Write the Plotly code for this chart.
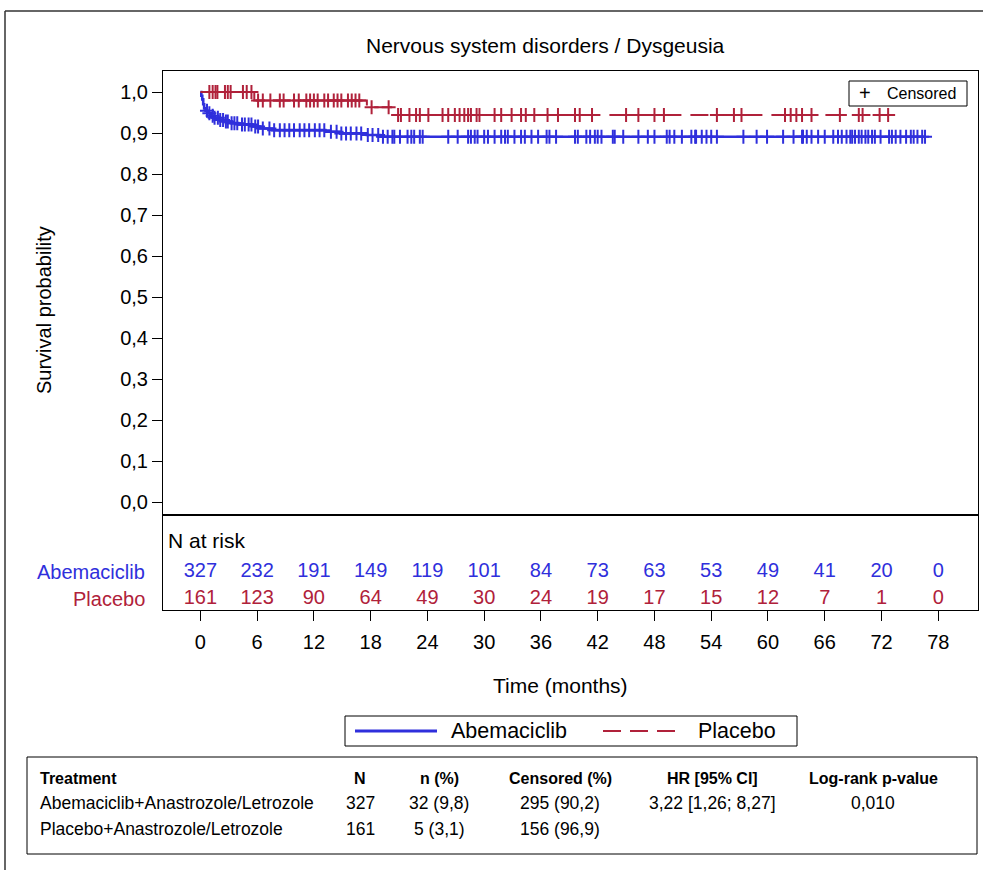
import numpy as np
import plotly.graph_objects as go

W, H = 983, 870
FONT = "Liberation Sans, Arial, sans-serif"
BLUE = "#2f2fdc"
RED = "#b0213a"

# Kaplan-Meier step estimates: time (months) where the curve steps, survival after the step
abem_times = [0, 0.1, 0.2, 0.3, 0.4, 0.55, 0.8, 1.1, 1.5, 2.0, 2.6, 3.3, 4.0, 5.5, 6.3, 7.6,
              13.2, 14.8, 17.6, 19.0]
abem_surv = [1.0, 0.991, 0.982, 0.970, 0.960, 0.954, 0.948, 0.942, 0.937, 0.932, 0.928, 0.924,
             0.921, 0.916, 0.911, 0.907, 0.903, 0.899, 0.895, 0.891]
abem_last = 76.6

plac_times = [0, 5.7, 17.6, 20.5]
plac_surv = [1.0, 0.979, 0.963, 0.944]
plac_last = 73.3

# Censoring times (months)
abem_censor = [0.7, 0.95, 1.3, 1.5, 1.85, 2.1, 2.4, 2.7, 2.9, 3.3, 3.6, 3.9, 4.4, 4.7, 5.1, 5.4,
               5.8, 6.1, 6.6, 7.3, 7.8, 8.4, 8.9, 9.4, 9.9, 10.5, 11.0, 11.5, 12.1, 12.6, 13.1,
               13.8, 14.4, 14.9, 15.4, 15.9, 16.5, 17.0, 17.7, 18.2, 18.8, 19.3, 19.8, 20.3,
               20.5, 21.1, 21.9, 22.3, 22.6, 23.2, 23.5, 26.2, 27.2, 28.3, 28.6, 29.0, 29.3,
               30.0, 30.4, 31.1, 31.8, 32.2, 32.5, 33.2, 33.9, 34.3, 35.0, 35.7, 36.6, 36.9,
               37.6, 39.6, 39.9, 40.8, 41.2, 41.7, 42.0, 42.4, 43.6, 43.8, 44.7, 46.3, 47.3,
               48.0, 49.3, 49.6, 50.1, 50.9, 51.9, 52.3, 52.4, 53.0, 53.5, 54.0, 54.6, 57.4,
               58.8, 59.9, 61.6, 62.7, 63.6, 63.7, 64.1, 64.6, 65.3, 66.0, 66.9, 67.4, 67.8,
               68.3, 68.7, 68.9, 69.2, 69.6, 69.9, 70.3, 70.6, 71.0, 71.3, 71.9, 72.8, 73.1,
               73.5, 74.0, 74.6, 75.1, 75.4, 75.8, 76.3, 76.6]
plac_censor = [0.95, 1.3, 1.6, 1.8, 2.6, 2.9, 3.2, 4.5, 4.9, 5.4, 6.1, 6.6, 7.4, 8.4, 8.8, 9.9,
               10.4, 11.2, 11.6, 12.0, 12.4, 13.1, 13.5, 14.1, 14.5, 14.9, 15.6, 16.0, 16.4,
               16.8, 18.1, 19.9, 20.9, 21.2, 22.1, 22.8, 23.2, 24.1, 25.6, 26.2, 26.9, 27.4,
               27.9, 28.3, 28.6, 29.2, 29.5, 31.1, 31.8, 32.9, 33.9, 34.4, 35.3, 36.7, 37.8,
               39.6, 40.1, 41.4, 45.0, 46.3, 48.0, 49.0, 54.6, 56.4, 57.2, 61.8, 62.4, 63.0,
               63.6, 64.6, 67.6, 69.6, 70.0, 71.8, 72.7]

# Numbers at risk
risk_times = [0, 6, 12, 18, 24, 30, 36, 42, 48, 54, 60, 66, 72, 78]
abem_at_risk = [327, 232, 191, 149, 119, 101, 84, 73, 63, 53, 49, 41, 20, 0]
plac_at_risk = [161, 123, 90, 64, 49, 30, 24, 19, 17, 15, 12, 7, 1, 0]

y_tick_vals = [0.0, 0.1, 0.2, 0.3, 0.4, 0.5, 0.6, 0.7, 0.8, 0.9, 1.0]
y_tick_text = ["0,0", "0,1", "0,2", "0,3", "0,4", "0,5", "0,6", "0,7", "0,8", "0,9", "1,0"]

arm_names = ["Abemaciclib", "Placebo"]

table_header = ["Treatment", "N", "n (%)", "Censored (%)", "HR [95% CI]", "Log-rank p-value"]
table_rows = [
    ["Abemaciclib+Anastrozole/Letrozole", "327", "32 (9,8)", "295 (90,2)", "3,22 [1,26; 8,27]", "0,010"],
    ["Placebo+Anastrozole/Letrozole", "161", "5 (3,1)", "156 (96,9)", "", ""],
]


def px(x):
    return x / W


def py(y):
    return 1 - y / H


def step_value(times, surv, t):
    idx = np.searchsorted(np.asarray(times), np.asarray(t), side="right") - 1
    return np.asarray(surv)[idx]


# layout geometry (pixels)
PL, PR = 163, 978          # plot left / right
PT, PB = 71, 515           # survival panel top / bottom
RB = 610                   # at-risk panel bottom
X_RANGE = [-3.95, 82.2]

fig = go.Figure()

# survival curves
fig.add_trace(go.Scatter(
    x=abem_times + [abem_last], y=abem_surv + [abem_surv[-1]], mode="lines",
    line=dict(color=BLUE, width=2.6, shape="hv"), xaxis="x", yaxis="y", hoverinfo="skip"))
fig.add_trace(go.Scatter(
    x=plac_times + [plac_last], y=plac_surv + [plac_surv[-1]], mode="lines",
    line=dict(color=RED, width=2, shape="hv", dash="18px,9px"), xaxis="x", yaxis="y",
    hoverinfo="skip"))

# censoring marks
fig.add_trace(go.Scatter(
    x=abem_censor, y=step_value(abem_times, abem_surv, abem_censor), mode="markers",
    marker=dict(symbol="cross-thin", size=10, line=dict(color=BLUE, width=2)),
    xaxis="x", yaxis="y", hoverinfo="skip"))
fig.add_trace(go.Scatter(
    x=plac_censor, y=step_value(plac_times, plac_surv, plac_censor), mode="markers",
    marker=dict(symbol="cross-thin", size=10, line=dict(color=RED, width=2)),
    xaxis="x", yaxis="y", hoverinfo="skip"))

# numbers at risk (row 1 = Abemaciclib, row 0 = Placebo)
for row, counts, color in [(1, abem_at_risk, BLUE), (0, plac_at_risk, RED)]:
    fig.add_trace(go.Scatter(
        x=risk_times, y=[row] * len(risk_times), mode="text",
        text=[str(c) for c in counts], textposition="middle center",
        textfont=dict(family=FONT, size=20, color=color),
        xaxis="x2", yaxis="y2", hoverinfo="skip", cliponaxis=False))

axis_common = dict(showgrid=False, zeroline=False, showline=True, mirror=True,
                   linecolor="black", linewidth=1)

fig.update_layout(
    width=W, height=H, margin=dict(l=0, r=0, t=0, b=0),
    paper_bgcolor="white", plot_bgcolor="white", showlegend=False,
    font=dict(family=FONT, color="black"),
    xaxis=dict(domain=[px(PL), px(PR)], range=X_RANGE, anchor="y",
               showticklabels=False, ticks="", **axis_common),
    yaxis=dict(domain=[py(PB), py(PT)], range=[-13 / 410, 1 + 21 / 410], anchor="x",
               tickvals=y_tick_vals, ticktext=y_tick_text, ticks="outside", ticklen=10,
               tickcolor="black", tickfont=dict(size=20), **axis_common),
    xaxis2=dict(domain=[px(PL), px(PR)], range=X_RANGE, anchor="y2",
                tickvals=risk_times, ticks="outside", ticklen=10, tickcolor="black",
                tickfont=dict(size=20), ticklabelstandoff=4, **axis_common),
    yaxis2=dict(domain=[py(RB), py(PB)], range=[-11 / 27, 1 + 57 / 27], anchor="x2",
                showticklabels=False, ticks="", **axis_common),
)

ann = []
# title and axis titles
ann.append(dict(text="Nervous system disorders / Dysgeusia", x=px(545), y=py(46),
                font=dict(size=21)))
ann.append(dict(text="Survival probability", x=px(44), y=py(310), textangle=-90,
                font=dict(size=20)))
ann.append(dict(text="Time (months)", x=px(560), y=py(685), font=dict(size=21)))
ann.append(dict(text="N at risk", x=px(166), y=py(540), xanchor="left", font=dict(size=21)))
for name, row, color in [(arm_names[0], 1, BLUE), (arm_names[1], 0, RED)]:
    ann.append(dict(text=name, x=px(147), xanchor="right", y=row, yref="y2",
                    font=dict(size=20, color=color)))

# censored legend
ann.append(dict(text="+", x=px(865), y=py(93), font=dict(size=20)))
ann.append(dict(text="Censored", x=px(885), y=py(94), xanchor="left", font=dict(size=16)))

# line legend
ann.append(dict(text=arm_names[0], x=px(449), y=py(731), xanchor="left", font=dict(size=21.5)))
ann.append(dict(text=arm_names[1], x=px(696), y=py(731), xanchor="left", font=dict(size=21.5)))

# summary table
col_x = [38, 360, 439, 560, 712, 873]
row_y = [778, 803, 829]
for j, h in enumerate(table_header):
    ann.append(dict(text=f"<b>{h}</b>", x=px(col_x[j]), y=py(row_y[0]),
                    xanchor="left" if j == 0 else "center", font=dict(size=16)))
for i, r in enumerate(table_rows):
    for j, v in enumerate(r):
        if v:
            ann.append(dict(text=v, x=px(col_x[j]), y=py(row_y[i + 1]),
                            xanchor="left" if j == 0 else "center", font=dict(size=17.5)))

for a in ann:
    a.setdefault("xref", "paper")
    a.setdefault("yref", "paper")
    a.setdefault("xanchor", "center")
    a.setdefault("yanchor", "middle")
    a["showarrow"] = False
fig.update_layout(annotations=ann)

shapes = [
    # outer frame (top and left)
    dict(type="line", x0=px(5), x1=1, y0=py(11), y1=py(11), line=dict(color="#333", width=1.5)),
    dict(type="line", x0=px(5), x1=px(5), y0=py(11), y1=0, line=dict(color="#333", width=1.5)),
    # censored legend box
    dict(type="rect", x0=px(849), x1=px(967), y0=py(81), y1=py(106),
         line=dict(color="black", width=1)),
    # line legend box and samples
    dict(type="rect", x0=px(345), x1=px(797), y0=py(716), y1=py(746),
         line=dict(color="black", width=1)),
    dict(type="line", x0=px(355), x1=px(437), y0=py(731), y1=py(731),
         line=dict(color=BLUE, width=3)),
    dict(type="line", x0=px(603), x1=px(677), y0=py(731), y1=py(731),
         line=dict(color=RED, width=2, dash="18px,9px")),
    # summary table box
    dict(type="rect", x0=px(27), x1=px(977), y0=py(757), y1=py(854),
         line=dict(color="black", width=1)),
]
for s in shapes:
    s["xref"] = "paper"
    s["yref"] = "paper"
fig.update_layout(shapes=shapes)

fig.write_html("out.html")
